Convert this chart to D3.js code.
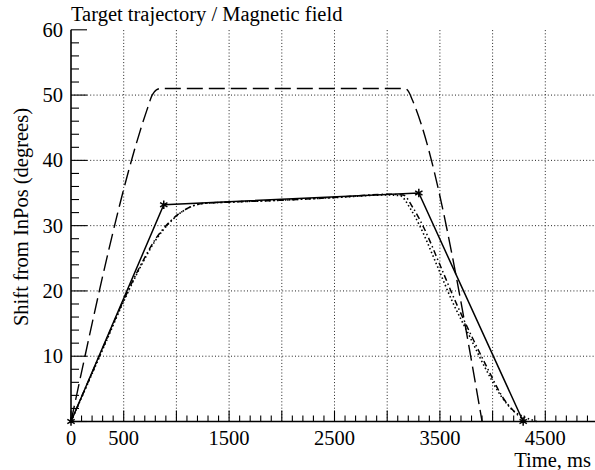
<!DOCTYPE html>
<html>
<head>
<meta charset="utf-8">
<script src="https://d3js.org/d3.v7.min.js"></script>
<style>
  body { margin: 0; background: #fff; }
  text { font-family: "Liberation Serif", "Times New Roman", serif; fill: #000; }
  .grid line { stroke: #222; stroke-width: 1; stroke-dasharray: 1,2.2; }
  .curve { fill: none; stroke: #000; }
</style>
</head>
<body>
<div id="chart"></div>
<script>
var w = 595, h = 470;

// target trajectory (long dashes)
var trajT = [0, 720, 770, 810, 850, 3170, 3200, 3240, 3900];
var trajV = [0, 47.7, 50, 50.8, 51, 51, 50.6, 49.2, 0];

// magnetic field set points (solid with stars)
var fieldT = [0, 880, 3300, 4290];
var fieldV = [0, 33.2, 35, 0];

// measured response (dash-dot)
var dashDotT = [0, 300, 500, 650, 800, 950, 1100, 1250, 1500, 2000, 2500, 3000, 3150, 3250, 3350, 3500, 3650, 3800, 3950, 4100, 4200, 4290];
var dashDotV = [0, 11.2, 18.6, 23.6, 27.9, 30.8, 32.6, 33.4, 33.6, 33.9, 34.3, 34.8, 34.7, 32.6, 29.6, 24.0, 18.3, 13.1, 8.2, 3.6, 1.6, 0.3];

// measured response (fine dots)
var dotT = [0, 300, 500, 650, 800, 950, 1100, 1250, 1500, 2000, 2500, 3000, 3120, 3220, 3320, 3470, 3620, 3780, 3930, 4080, 4200, 4300, 4420];
var dotV = [0, 11.0, 18.4, 23.4, 27.7, 30.7, 32.6, 33.4, 33.6, 33.9, 34.3, 34.7, 34.6, 32.6, 29.6, 24.0, 18.3, 13.1, 8.2, 3.9, 1.6, 0.7, 0];

var xTickLabels = [0, 500, 1500, 2500, 3500, 4500];
var yTickLabels = [10, 20, 30, 40, 50, 60];

var fs = "20.5px";

var svg = d3.select("#chart").append("svg")
  .attr("width", w)
  .attr("height", h);

var x = d3.scaleLinear().domain([0, 5000]).range([71, 598]);
var y = d3.scaleLinear().domain([0, 60]).range([421.5, 29.8]);

// grid
var grid = svg.append("g").attr("class", "grid");
grid.selectAll(".gx")
  .data(d3.range(500, 5001, 500))
  .enter().append("line")
  .attr("x1", function (d) { return x(d); })
  .attr("x2", function (d) { return x(d); })
  .attr("y1", y(0))
  .attr("y2", y(60));
grid.selectAll(".gy")
  .data(d3.range(10, 51, 10))
  .enter().append("line")
  .attr("x1", x(0))
  .attr("x2", x(5000))
  .attr("y1", function (d) { return y(d); })
  .attr("y2", function (d) { return y(d); });

// axes: ticks inside the frame
var xAxis = svg.append("g").attr("transform", "translate(0," + y(0) + ")");
xAxis.append("line").attr("x1", x(0)).attr("x2", x(5000)).attr("stroke", "#000").attr("stroke-width", 1.6);
xAxis.selectAll(".mt")
  .data(d3.range(0, 5001, 100))
  .enter().append("line")
  .attr("x1", function (d) { return x(d); })
  .attr("x2", function (d) { return x(d); })
  .attr("y1", 0)
  .attr("y2", function (d) { return d % 500 === 0 ? -11 : -6; })
  .attr("stroke", "#000")
  .attr("stroke-width", 1.1);
xAxis.selectAll(".lbl")
  .data(xTickLabels)
  .enter().append("text")
  .attr("x", function (d) { return x(d); })
  .attr("y", 23)
  .attr("text-anchor", "middle")
  .style("font-size", fs)
  .text(function (d) { return d; });

var yAxis = svg.append("g").attr("transform", "translate(" + x(0) + ",0)");
yAxis.append("line").attr("y1", y(0)).attr("y2", y(60)).attr("stroke", "#000").attr("stroke-width", 1.6);
yAxis.selectAll(".mt")
  .data(d3.range(0, 61, 2))
  .enter().append("line")
  .attr("y1", function (d) { return y(d); })
  .attr("y2", function (d) { return y(d); })
  .attr("x1", 0)
  .attr("x2", function (d) { return d % 10 === 0 ? 16 : 8; })
  .attr("stroke", "#000")
  .attr("stroke-width", 1.1);
yAxis.selectAll(".lbl")
  .data(yTickLabels)
  .enter().append("text")
  .attr("x", -8)
  .attr("y", function (d) { return y(d) + 7; })
  .attr("text-anchor", "end")
  .style("font-size", fs)
  .text(function (d) { return d; });

// titles
svg.append("text").attr("x", 71).attr("y", 21).style("font-size", fs)
  .text("Target trajectory / Magnetic field");
svg.append("text").attr("x", 591).attr("y", 467).attr("text-anchor", "end").style("font-size", fs)
  .text("Time, ms");
svg.append("text")
  .attr("transform", "translate(28," + 217 + ") rotate(-90)")
  .attr("text-anchor", "middle")
  .style("font-size", fs)
  .text("Shift from InPos (degrees)");

// curves
function pts(ts, vs) { return ts.map(function (t, i) { return [t, vs[i]]; }); }
var line = d3.line().x(function (d) { return x(d[0]); }).y(function (d) { return y(d[1]); });
var smooth = d3.line().curve(d3.curveMonotoneX).x(function (d) { return x(d[0]); }).y(function (d) { return y(d[1]); });

svg.append("path").attr("class", "curve").attr("d", smooth(pts(dotT, dotV)))
  .attr("stroke-width", 1.6).attr("stroke-dasharray", "1.5,2.5");
svg.append("path").attr("class", "curve").attr("d", smooth(pts(dashDotT, dashDotV)))
  .attr("stroke-width", 1.5).attr("stroke-dasharray", "6,3,1.5,3");
svg.append("path").attr("class", "curve").attr("d", smooth(pts(trajT, trajV)))
  .attr("stroke-width", 1.4).attr("stroke-dasharray", "16,6");
svg.append("path").attr("class", "curve").attr("d", line(pts(fieldT, fieldV)))
  .attr("stroke-width", 1.5);

svg.selectAll(".star")
  .data(pts(fieldT, fieldV))
  .enter().append("path")
  .attr("d", d3.symbol(d3.symbolAsterisk, 50))
  .attr("transform", function (d) { return "translate(" + x(d[0]) + "," + y(d[1]) + ")"; })
  .attr("fill", "none")
  .attr("stroke", "#000")
  .attr("stroke-width", 1.5);
</script>
</body>
</html>
